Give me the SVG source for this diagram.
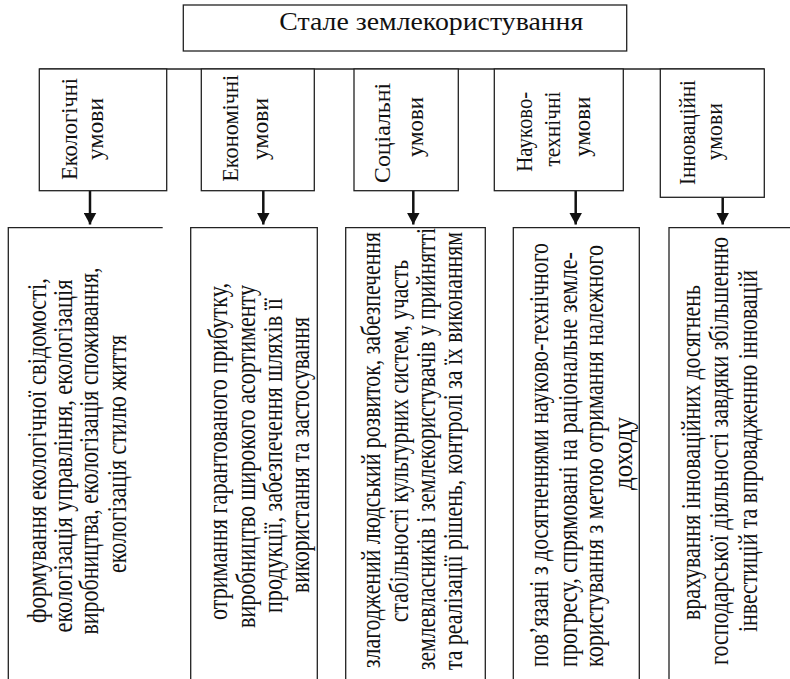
<svg xmlns="http://www.w3.org/2000/svg" width="790" height="679" viewBox="0 0 790 679">
<style>
.box{fill:#fff;stroke:#222;stroke-width:1.3}
.open{fill:none;stroke:#222;stroke-width:1.3}
.t{font-family:"Liberation Serif","Times New Roman",serif;fill:#111;text-anchor:middle}
.title{font-size:25px}
.h{font-size:23px}
.b{font-size:28px}
.arr{stroke:#111;stroke-width:2.5;fill:none}
</style>
<defs>
<marker id="ah" viewBox="0 0 12 13" refX="12" refY="6.5" markerWidth="12" markerHeight="13" markerUnits="userSpaceOnUse" orient="auto">
<path d="M0,0 L12,6.5 L0,13 z" fill="#111"/>
</marker>
</defs>
<rect width="790" height="679" fill="#fff"/>

<g id="title">
<rect class="box" x="183.3" y="5" width="443.4" height="46"/>
<text class="t title" x="431.3" y="30" textLength="304" lengthAdjust="spacingAndGlyphs">Стале землекористування</text>
</g>

<g id="connectors">
<line class="open" x1="39.3" y1="69" x2="764.3" y2="69"/>
<line class="arr" x1="90" y1="190.7" x2="90" y2="224.5" marker-end="url(#ah)"/>
<line class="arr" x1="263.3" y1="190.7" x2="263.3" y2="224.5" marker-end="url(#ah)"/>
<line class="arr" x1="413.3" y1="190.7" x2="413.3" y2="224.5" marker-end="url(#ah)"/>
<line class="arr" x1="575.7" y1="190.7" x2="575.7" y2="224.5" marker-end="url(#ah)"/>
<line class="arr" x1="722.7" y1="197.3" x2="722.7" y2="224.5" marker-end="url(#ah)"/>
</g>

<g id="h1">
<rect class="box" x="39.3" y="69" width="127.4" height="121.7"/>
<text class="t h" transform="translate(76.7,129) rotate(-90)" textLength="102" lengthAdjust="spacingAndGlyphs">Екологічні</text>
<text class="t h" transform="translate(103.3,129) rotate(-90)" textLength="62" lengthAdjust="spacingAndGlyphs">умови</text>
</g>
<g id="h2">
<rect class="box" x="201.3" y="69" width="113" height="121.7"/>
<text class="t h" transform="translate(238,128.3) rotate(-90)" textLength="107" lengthAdjust="spacingAndGlyphs">Економічні</text>
<text class="t h" transform="translate(268,129) rotate(-90)" textLength="62" lengthAdjust="spacingAndGlyphs">умови</text>
</g>
<g id="h3">
<rect class="box" x="354" y="69" width="104.3" height="121.7"/>
<text class="t h" transform="translate(390,133) rotate(-90)" textLength="100" lengthAdjust="spacingAndGlyphs">Соціальні</text>
<text class="t h" transform="translate(423,127) rotate(-90)" textLength="60" lengthAdjust="spacingAndGlyphs">умови</text>
</g>
<g id="h4">
<rect class="box" x="494.3" y="69" width="129" height="121.7"/>
<text class="t h" transform="translate(531.7,131.7) rotate(-90)" textLength="80" lengthAdjust="spacingAndGlyphs">Науково-</text>
<text class="t h" transform="translate(560,129) rotate(-90)" textLength="75" lengthAdjust="spacingAndGlyphs">технічні</text>
<text class="t h" transform="translate(590,126.7) rotate(-90)" textLength="60" lengthAdjust="spacingAndGlyphs">умови</text>
</g>
<g id="h5">
<rect class="box" x="660.3" y="69" width="104" height="128.3"/>
<text class="t h" transform="translate(695,132.5) rotate(-90)" textLength="105" lengthAdjust="spacingAndGlyphs">Інноваційні</text>
<text class="t h" transform="translate(721.7,131.7) rotate(-90)" textLength="57" lengthAdjust="spacingAndGlyphs">умови</text>
</g>

<g id="b1">
<path class="open" d="M8.3,682 V227.7 H162.7"/>
<text class="t b" transform="translate(46,450.5) rotate(-90)" textLength="345" lengthAdjust="spacingAndGlyphs">формування екологічної свідомості,</text>
<text class="t b" transform="translate(72,456) rotate(-90)" textLength="353" lengthAdjust="spacingAndGlyphs">екологізація управління, екологізація</text>
<text class="t b" transform="translate(98,451) rotate(-90)" textLength="367" lengthAdjust="spacingAndGlyphs">виробництва, екологізація споживання,</text>
<text class="t b" transform="translate(126,454) rotate(-90)" textLength="238" lengthAdjust="spacingAndGlyphs">екологізація стилю життя</text>
</g>
<g id="b2">
<path class="open" d="M190.7,682 V227.7 H317.3 V682"/>
<text class="t b" transform="translate(227,451.5) rotate(-90)" textLength="337" lengthAdjust="spacingAndGlyphs">отримання гарантованого прибутку,</text>
<text class="t b" transform="translate(255,456.5) rotate(-90)" textLength="343" lengthAdjust="spacingAndGlyphs">виробництво широкого асортименту</text>
<text class="t b" transform="translate(282,455.5) rotate(-90)" textLength="315" lengthAdjust="spacingAndGlyphs">продукції, забезпечення шляхів її</text>
<text class="t b" transform="translate(309,455) rotate(-90)" textLength="276" lengthAdjust="spacingAndGlyphs">використання та застосування</text>
</g>
<g id="b3">
<path class="open" d="M345.7,682 V227.7 H485.3 V682"/>
<text class="t b" transform="translate(380,450) rotate(-90)" textLength="436" lengthAdjust="spacingAndGlyphs">злагоджений людський розвиток, забезпечення</text>
<text class="t b" transform="translate(408,441) rotate(-90)" textLength="362" lengthAdjust="spacingAndGlyphs">стабільності культурних систем, участь</text>
<text class="t b" transform="translate(435,449) rotate(-90)" textLength="442" lengthAdjust="spacingAndGlyphs">землевласників і землекористувачів у прийнятті</text>
<text class="t b" transform="translate(462,451) rotate(-90)" textLength="438" lengthAdjust="spacingAndGlyphs">та реалізації рішень, контролі за їх виконанням</text>
</g>
<g id="b4">
<path class="open" d="M513.3,682 V227.7 H639.3 V682"/>
<text class="t b" transform="translate(548,455) rotate(-90)" textLength="424" lengthAdjust="spacingAndGlyphs">пов’язані з досягненнями науково-технічного</text>
<text class="t b" transform="translate(577,459.5) rotate(-90)" textLength="415" lengthAdjust="spacingAndGlyphs">прогресу, спрямовані на раціональне земле-</text>
<text class="t b" transform="translate(603,456) rotate(-90)" textLength="422" lengthAdjust="spacingAndGlyphs">користування з метою отримання належного</text>
<text class="t b" transform="translate(632,453.5) rotate(-90)" textLength="73" lengthAdjust="spacingAndGlyphs">доходу</text>
</g>
<g id="b5">
<path class="open" d="M669,682 V227.7 H792"/>
<text class="t b" transform="translate(700,452.5) rotate(-90)" textLength="335" lengthAdjust="spacingAndGlyphs">врахування інноваційних досягнень</text>
<text class="t b" transform="translate(728,451) rotate(-90)" textLength="428" lengthAdjust="spacingAndGlyphs">господарської діяльності завдяки збільшенню</text>
<text class="t b" transform="translate(757,451) rotate(-90)" textLength="362" lengthAdjust="spacingAndGlyphs">інвестицій та впровадженню інновацій</text>
</g>
</svg>
